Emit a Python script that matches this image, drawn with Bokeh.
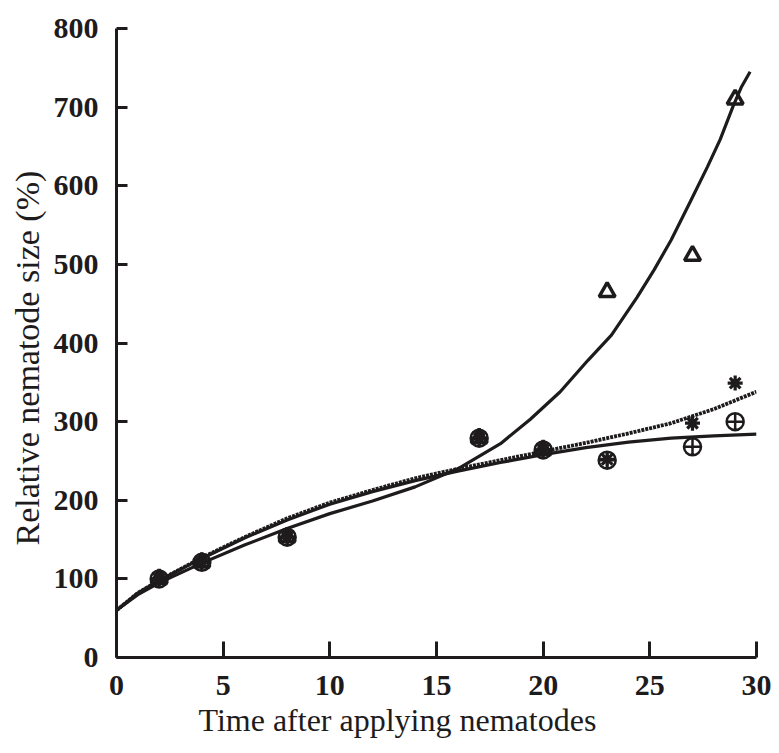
from bokeh.plotting import figure
from bokeh.models import Range1d, FixedTicker, Title
from bokeh.embed import file_html
from bokeh.resources import INLINE

# Observed data points (days after applying nematodes)
days = [2, 4, 8, 17, 20, 23, 27, 29]
tri_y = [100, 121, 153, 279, 264, 465, 511, 710]
ast_y = [100, 121, 153, 279, 264, 252, 298, 349]
circ_y = [100, 121, 153, 279, 264, 251, 268, 300]

# Fitted curves
exp_x = [0, 1, 2, 4, 6, 8, 10, 12, 14, 16, 18, 19.4, 20.8, 22.1, 23.2, 24.4, 25.2, 26.0, 26.9, 27.7, 28.3, 28.9, 29.3, 29.7]
exp_y = [60, 80, 95, 120, 143, 164, 183, 199, 217, 240, 272, 303, 338, 378, 410, 458, 493, 531, 580, 624, 659, 701, 726, 745]

dot_x = [0, 1, 2, 4, 6, 8, 10, 12, 14, 16, 18, 20, 22, 24, 26, 28, 30]
dot_y = [60, 82, 98, 127, 153, 177, 197, 213, 228, 240, 251, 262, 273, 285, 298, 316, 338]

flat_x = [0, 1, 2, 4, 6, 8, 10, 12, 14, 16, 18, 20, 22, 24, 26, 28, 30]
flat_y = [60, 82, 98, 126, 152, 175, 195, 211, 225, 237, 248, 258, 267, 274, 279, 282, 284]

x_ticks = [0, 5, 10, 15, 20, 25, 30]
y_ticks = [0, 100, 200, 300, 400, 500, 600, 700, 800]

x_label = "Time after applying nematodes"
y_label = "Relative nematode size (%)"

INK = "#1e1b1c"
FONT = "Liberation Serif"

p = figure(width=771, height=752, output_backend="svg", toolbar_location=None,
           x_range=Range1d(0, 30), y_range=Range1d(0, 800),
           min_border_left=116, min_border_right=15, min_border_top=28, min_border_bottom=95)
p.outline_line_color = None
p.grid.grid_line_color = None
p.background_fill_color = "white"

p.line(exp_x, exp_y, line_color=INK, line_width=3.2)
p.line(flat_x, flat_y, line_color=INK, line_width=3.2)
p.line(dot_x, dot_y, line_color=INK, line_width=3.8, line_dash="3 1")

p.scatter(days, circ_y, marker="circle_cross", size=17, fill_color=None, line_color=INK, line_width=2.5)
p.scatter(days, tri_y, marker="triangle", size=16, fill_color=None, line_color=INK, line_width=3.5)
p.scatter(days, ast_y, marker="asterisk", size=15, line_color=INK, line_width=3.2)

for ax in (p.xaxis[0], p.yaxis[0]):
    ax.axis_line_width = 3
    ax.axis_line_color = INK
    ax.major_tick_line_color = INK
    ax.major_tick_line_width = 3
    ax.major_tick_out = 0
    ax.minor_tick_line_color = None
    ax.major_label_text_font = FONT
    ax.major_label_text_font_size = "30px"
    ax.major_label_text_font_style = "bold"
    ax.major_label_text_color = INK

p.xaxis.ticker = FixedTicker(ticks=x_ticks)
p.yaxis.ticker = FixedTicker(ticks=y_ticks)
p.xaxis.major_tick_in = 16
p.yaxis.major_tick_in = 11
p.xaxis.major_label_standoff = 18
p.yaxis.major_label_standoff = 18

xt = Title(text=x_label, align="left", offset=82, standoff=5,
           text_font=FONT, text_font_size="32px", text_font_style="normal", text_color=INK)
p.add_layout(xt, "below")
yt = Title(text=y_label, align="left", offset=112, standoff=9,
           text_font=FONT, text_font_size="34px", text_font_style="normal", text_color=INK)
p.add_layout(yt, "left")

open("out.html", "w").write(file_html(p, INLINE))
